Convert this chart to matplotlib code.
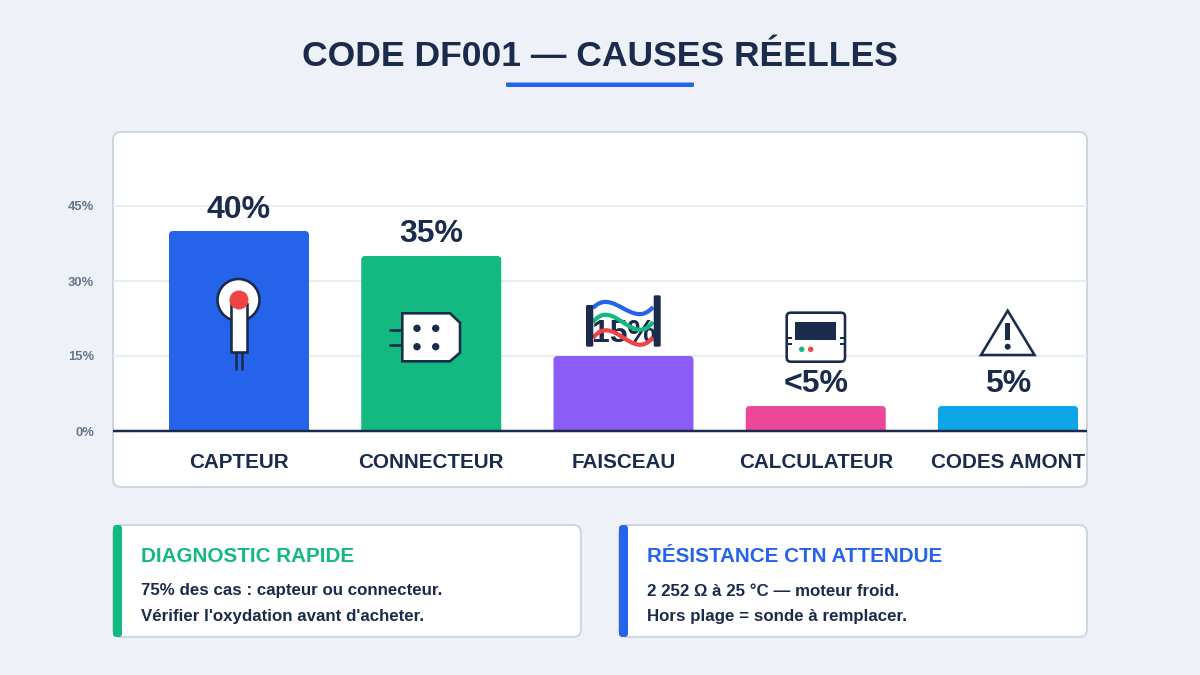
# -*- coding: utf-8 -*-
import matplotlib
matplotlib.use("Agg")
import matplotlib.pyplot as plt
from matplotlib.patches import FancyBboxPatch, Circle, Polygon, PathPatch
from matplotlib.path import Path

plt.rcParams["font.family"] = ["Liberation Sans", "DejaVu Sans"]
plt.rcParams["font.weight"] = "bold"

categories = ["CAPTEUR", "CONNECTEUR", "FAISCEAU", "CALCULATEUR", "CODES AMONT"]
values = [40, 35, 15, 5, 5]
value_labels = ["40%", "35%", "15%", "<5%", "5%"]
bar_colors = ["#2563eb", "#13b981", "#8b5cf6", "#ec4899", "#0ea5e9"]
ytick_values = [0, 15, 30, 45]
ytick_labels = ["0%", "15%", "30%", "45%"]

title = "CODE DF001 — CAUSES RÉELLES"
left_head = "DIAGNOSTIC RAPIDE"
left_lines = ["75% des cas : capteur ou connecteur.", "Vérifier l'oxydation avant d'acheter."]
right_head = "RÉSISTANCE CTN ATTENDUE"
right_lines = ["2 252 Ω à 25 °C — moteur froid.", "Hors plage = sonde à remplacer."]

navy = "#1b2b4b"
bg = "#eef2f8"
border = "#cdd6e3"
grid = "#e9edf2"
blue, green, red = "#2563eb", "#13b981", "#ef4444"


def pt(p):
    # pixels to points at dpi 100
    return p * 0.72


def rbox(ax, x0, y0, x1, y1, r, **kw):
    b = FancyBboxPatch((x0, y0), x1 - x0, y1 - y0, boxstyle="round,pad=0,rounding_size=%g" % r, **kw)
    ax.add_patch(b)
    return b


fig = plt.figure(figsize=(12, 6.75), dpi=100, facecolor=bg)

# background layer, pixel coordinates
back = fig.add_axes([0, 0, 1, 1], zorder=0)
back.set_xlim(0, 1200)
back.set_ylim(675, 0)
back.axis("off")

back.text(600, 56, title, ha="center", va="center", color=navy, fontsize=pt(35.5))
rbox(back, 506, 82.5, 694, 87, 1, fc=blue, ec="none")

rbox(back, 113, 132, 1087, 487, 8, fc="white", ec=border, lw=pt(2))

for x0, col, head, lines in [(113, green, left_head, left_lines), (619, blue, right_head, right_lines)]:
    rbox(back, x0, 525, x0 + 468, 637, 8, fc="white", ec=border, lw=pt(2))
    rbox(back, x0, 525, x0 + 9, 637, 3.5, fc=col, ec="none")
    back.text(x0 + 28, 556.5, head, ha="left", va="center", color=col, fontsize=pt(20.6))
    back.text(x0 + 28, 591, lines[0], ha="left", va="center", color=navy, fontsize=pt(16.9))
    back.text(x0 + 28, 616, lines[1], ha="left", va="center", color=navy, fontsize=pt(16.9))

# chart, on the data scale (5 px per %, 192.25 px between bars)
ax = fig.add_axes([113 / 1200, (675 - 487) / 675, 974 / 1200, 355 / 675], zorder=1)
ax.patch.set_alpha(0)
ax.set_xlim(-126 / 192.25, 848 / 192.25)
ax.set_ylim(-56 / 5, 299 / 5)
for s in ax.spines.values():
    s.set_visible(False)
ax.set_xticks([])
ax.set_yticks(ytick_values)
ax.set_yticklabels(ytick_labels, color="#64748b", fontsize=pt(13))
ax.tick_params(axis="y", length=0, pad=pt(19))
ax.grid(axis="y", color=grid, lw=pt(2))
ax.set_axisbelow(True)

bar_w = 140 / 192.25
rx = 4 / 192.25
ry = 4 / 5
for i, v in enumerate(values):
    x0, x1 = i - bar_w / 2, i + bar_w / 2
    verts = [(x0, 0), (x0, v - ry), (x0, v), (x0 + rx, v), (x1 - rx, v), (x1, v), (x1, v - ry), (x1, 0), (x0, 0)]
    codes = [Path.MOVETO, Path.LINETO, Path.CURVE3, Path.CURVE3, Path.LINETO, Path.CURVE3, Path.CURVE3, Path.LINETO, Path.CLOSEPOLY]
    ax.add_patch(PathPatch(Path(verts, codes), fc=bar_colors[i], ec="none", zorder=2))
    ax.text(i, v + 21.5 / 5, value_labels[i], ha="center", va="center", color=navy, fontsize=pt(32), zorder=3)
    ax.text(i, -32 / 5, categories[i], ha="center", va="center", color=navy, fontsize=pt(20.6), zorder=3)
ax.axhline(0, color=navy, lw=pt(2.5), zorder=4)

# icons on top, pixel coordinates
ic = fig.add_axes([0, 0, 1, 1], zorder=2)
ic.set_xlim(0, 1200)
ic.set_ylim(675, 0)
ic.axis("off")
ol = pt(2.6)

# sensor
ic.add_patch(Circle((238.5, 300), 21, fc="white", ec=navy, lw=ol))
ic.add_patch(plt.Rectangle((231, 304), 15.5, 47.5, fc="white", ec=navy, lw=ol))
ic.plot([236, 236], [352, 370], color=navy, lw=ol, solid_capstyle="butt")
ic.plot([241.7, 241.7], [352, 370], color=navy, lw=ol, solid_capstyle="butt")
ic.add_patch(Circle((239, 300), 9.5, fc=red, ec="none"))

# connector
ic.add_patch(Polygon([(402.3, 313.3), (450, 313.3), (460, 322.7), (460, 352.7), (450, 361.3), (402.3, 361.3)],
                     closed=True, fc="white", ec=navy, lw=ol))
for py in (330, 345):
    ic.plot([389, 402], [py, py], color=navy, lw=ol, solid_capstyle="butt")
for cx, cy in [(417, 328.3), (435.7, 328.3), (417, 346.7), (435.7, 346.7)]:
    ic.add_patch(Circle((cx, cy), 3.7, fc=navy, ec="none"))

# harness
for col, ys in [(blue, (308, 286.5, 330.5, 307)), (green, (322, 296.5, 348.5, 322)), (red, (338, 311.5, 363.5, 337))]:
    wave = Path([(593, ys[0]), (613, ys[1]), (633, ys[2]), (653, ys[3])],
                [Path.MOVETO, Path.CURVE4, Path.CURVE4, Path.CURVE4])
    ic.add_patch(PathPatch(wave, fc="none", ec=col, lw=pt(4.2)))
rbox(ic, 586, 305, 593.3, 346.7, 1.5, fc=navy, ec="none")
rbox(ic, 653.7, 295.3, 660.7, 346.7, 1.5, fc=navy, ec="none")

# ECU
rbox(ic, 786.7, 312.7, 845, 361.7, 4, fc="white", ec=navy, lw=ol)
ic.add_patch(plt.Rectangle((795, 321.7), 41, 18.3, fc=navy, ec="none"))
for py in (338, 344):
    ic.plot([786.7, 792], [py, py], color=navy, lw=pt(2), solid_capstyle="butt")
    ic.plot([839.7, 845], [py, py], color=navy, lw=pt(2), solid_capstyle="butt")
ic.add_patch(Circle((801.7, 349.3), 2.7, fc=green, ec="none"))
ic.add_patch(Circle((810.7, 349.3), 2.7, fc=red, ec="none"))

# warning
ic.add_patch(Polygon([(1007.7, 310.7), (981, 355), (1034.5, 355)], closed=True, fc="white", ec=navy, lw=ol, joinstyle="miter"))
ic.add_patch(plt.Rectangle((1005, 323), 5.4, 17, fc=navy, ec="none"))
ic.add_patch(Circle((1007.7, 346.7), 3, fc=navy, ec="none"))

fig.savefig("out.png", dpi=100, facecolor=bg)
